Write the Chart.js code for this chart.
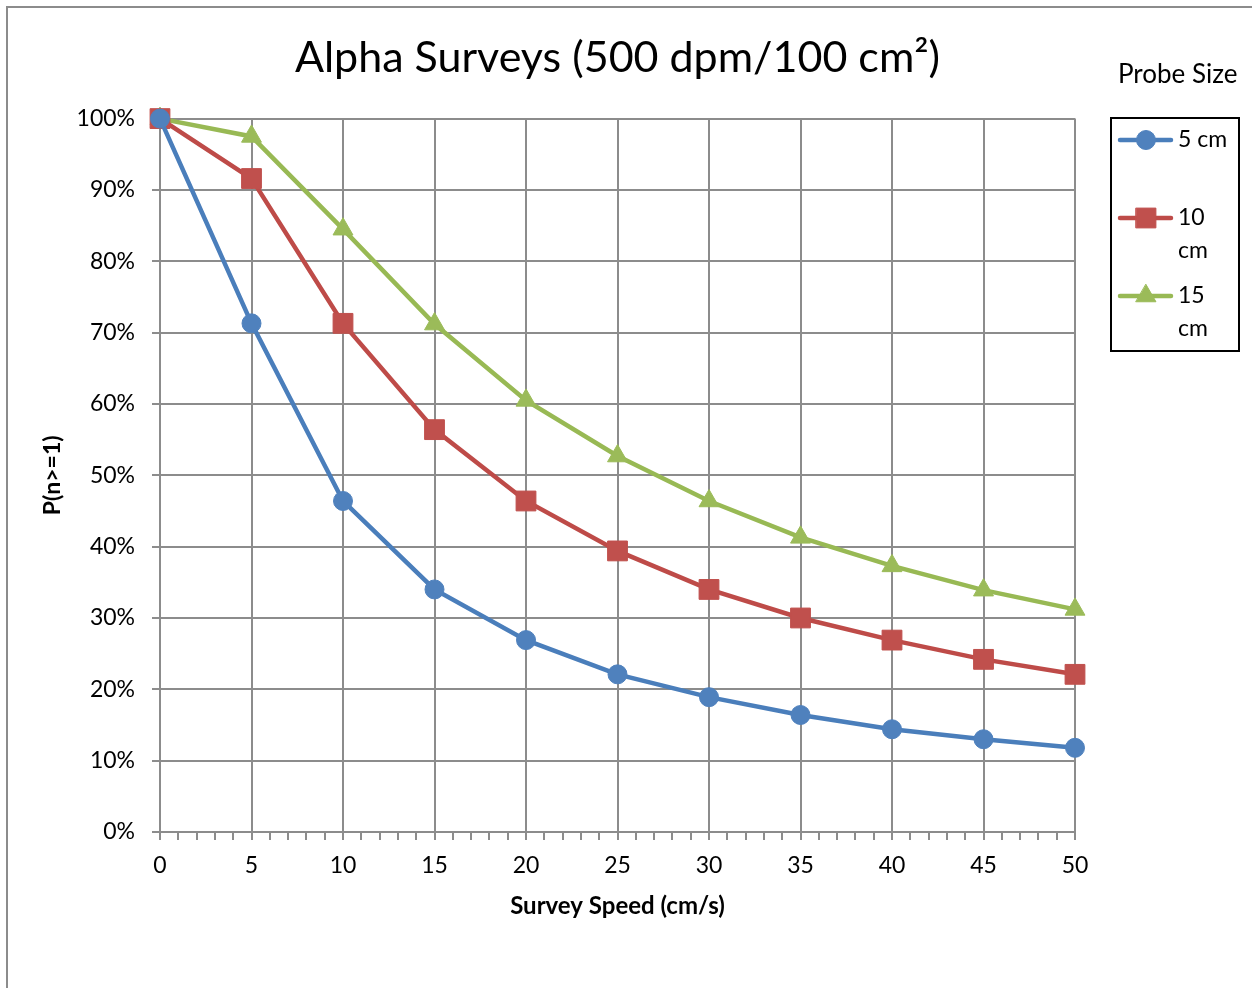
<!DOCTYPE html>
<html>
<head>
<meta charset="utf-8">
<script src="https://cdn.jsdelivr.net/npm/chart.js@4.4.1/dist/chart.umd.min.js"></script>
<style>
  html, body { margin: 0; padding: 0; background: #fff; overflow: hidden; }
  #frame { position: absolute; left: 6px; top: 6px; width: 1400px; height: 1200px;
           border-left: 2px solid #8c8c8c; border-top: 2px solid #8c8c8c; }
  #chart { position: absolute; left: 0; top: 0; }
</style>
</head>
<body>
<div id="frame"></div>
<canvas id="chart" width="1252" height="988"></canvas>
<script>
// survey speed (cm/s)
var speeds = [0, 5, 10, 15, 20, 25, 30, 35, 40, 45, 50];
// P(n>=1) in percent, per probe size
var probe5 = [100, 71.3, 46.4, 34.0, 26.9, 22.1, 18.9, 16.4, 14.4, 13.0, 11.8];
var probe10 = [100, 91.6, 71.3, 56.4, 46.4, 39.4, 34.0, 30.0, 26.9, 24.2, 22.1];
var probe15 = [100, 97.5, 84.5, 71.2, 60.5, 52.7, 46.4, 41.3, 37.3, 33.9, 31.2];
var seriesNames = [['5 cm'], ['10', 'cm'], ['15', 'cm']];
var yTicks = [0, 10, 20, 30, 40, 50, 60, 70, 80, 90, 100];

var FONT = 'Lato, "Open Sans", sans-serif';
var GRID = '#8c8c8c';

function pts(vals) {
  return vals.map(function (v, i) { return { x: speeds[i], y: v }; });
}

var styles = [
  { line: '#4a7ebb', fill: '#4f81bd', pointStyle: 'circle', radius: 9.5 },
  { line: '#be4b48', fill: '#c0504d', pointStyle: 'rect', radius: 14 },
  { line: '#98b954', fill: '#9bbb59', pointStyle: 'triangle', radius: 11.5 }
];

var datasets = [probe5, probe10, probe15].map(function (vals, i) {
  var s = styles[i];
  return {
    label: seriesNames[i].join(' '),
    data: pts(vals),
    borderColor: s.line,
    backgroundColor: s.fill,
    borderWidth: 4.5,
    pointStyle: s.pointStyle,
    pointRadius: s.radius,
    pointBackgroundColor: s.fill,
    pointBorderColor: s.fill,
    pointBorderWidth: 1,
    tension: 0,
    clip: false
  };
});

// legend box on the right, Excel style
var probeLegend = {
  id: 'probeLegend',
  afterDraw: function (chart) {
    var ctx = chart.ctx;
    ctx.save();
    ctx.fillStyle = '#000';
    ctx.textBaseline = 'middle';
    ctx.textAlign = 'left';
    ctx.font = '26px ' + FONT;
    ctx.fillText('Probe Size', 1118, 75);

    ctx.strokeStyle = '#000';
    ctx.lineWidth = 2;
    ctx.strokeRect(1111, 118, 128, 233);

    var rowY = [140, 218, 296];
    datasets.forEach(function (ds, i) {
      var y = rowY[i];
      ctx.strokeStyle = ds.borderColor;
      ctx.lineWidth = 4.5;
      ctx.lineCap = 'round';
      ctx.beginPath();
      ctx.moveTo(1120, y);
      ctx.lineTo(1171, y);
      ctx.stroke();
      ctx.fillStyle = ds.pointBackgroundColor;
      ctx.strokeStyle = ds.pointBorderColor;
      ctx.lineWidth = 1;
      Chart.helpers.drawPoint(ctx, {
        pointStyle: ds.pointStyle,
        radius: ds.pointRadius,
        rotation: 0,
        borderWidth: 1
      }, 1146, y);
      ctx.fillStyle = '#000';
      ctx.font = '23px ' + FONT;
      seriesNames[i].forEach(function (t, k) {
        ctx.fillText(t, 1178, y + k * 33);
      });
    });
    ctx.restore();
  }
};

new Chart(document.getElementById('chart'), {
  type: 'line',
  data: { datasets: datasets },
  options: {
    responsive: false,
    animation: false,
    devicePixelRatio: 1,
    layout: { padding: { left: 0, top: 0, right: 177, bottom: 0 } },
    plugins: {
      legend: { display: false },
      tooltip: { enabled: false },
      title: {
        display: true,
        fullSize: false,
        text: 'Alpha Surveys (500 dpm/100 cm\u00B2)',
        color: '#000',
        font: { family: FONT, size: 43, weight: 'normal' },
        padding: { top: 32, bottom: 35 }
      }
    },
    scales: {
      x: {
        type: 'linear',
        min: 0,
        max: 50,
        afterFit: function (scale) { scale.height = 156; },
        ticks: {
          stepSize: 1,
          autoSkip: false,
          maxRotation: 0,
          padding: 12,
          color: '#000',
          font: { family: FONT, size: 23 },
          callback: function (v) { return v % 5 === 0 ? v : ''; }
        },
        grid: {
          color: function (c) { return c.tick && c.tick.value % 5 === 0 ? GRID : 'rgba(0,0,0,0)'; },
          tickColor: GRID,
          lineWidth: 2,
          tickLength: 8
        },
        border: { color: GRID, width: 2 },
        title: {
          display: true,
          text: 'Survey Speed (cm/s)',
          color: '#000',
          font: { family: FONT, size: 24, weight: 'bold' },
          padding: { top: 0, bottom: 67 }
        }
      },
      y: {
        min: 0,
        max: 100,
        afterFit: function (scale) { scale.width = 160; },
        afterBuildTicks: function (scale) {
          scale.ticks = yTicks.map(function (v) { return { value: v }; });
        },
        ticks: {
          padding: 17,
          color: '#000',
          font: { family: FONT, size: 23 },
          callback: function (v) { return v + '%'; }
        },
        grid: { color: GRID, lineWidth: 2, tickLength: 8 },
        border: { color: GRID, width: 2 },
        title: {
          display: true,
          text: 'P(n>=1)',
          color: '#000',
          font: { family: FONT, size: 23, weight: 'bold' },
          padding: { top: 39, bottom: 0 }
        }
      }
    }
  },
  plugins: [probeLegend]
});
</script>
</body>
</html>
